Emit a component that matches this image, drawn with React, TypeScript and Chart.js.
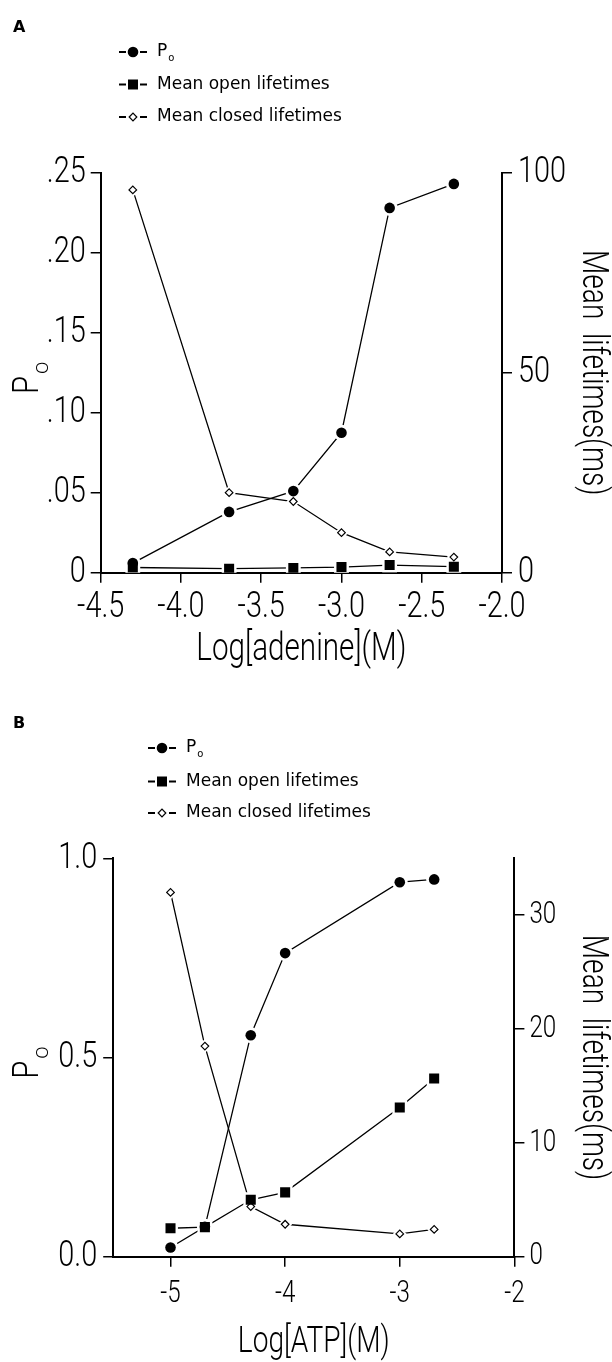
import React, { useEffect, useRef } from 'react';
import { Chart, registerables } from 'chart.js';

Chart.register(...registerables);

// ---------- series names ----------
const poName = 'P';
const poSub = 'o';
const openName = 'Mean open lifetimes';
const closedName = 'Mean closed lifetimes';

// ---------- Panel A : adenine ----------
const adenineLogM = [-4.3, -3.7, -3.3, -3.0, -2.7, -2.3];
const adeninePo = [0.006, 0.038, 0.051, 0.0875, 0.228, 0.243];
const adenineOpenMs = [1.3, 1.0, 1.2, 1.4, 1.9, 1.5];
const adenineClosedMs = [95.7, 20.0, 17.8, 10.0, 5.2, 3.9];
const adenineXTicks = [-4.5, -4.0, -3.5, -3.0, -2.5, -2.0];
const adenineXTickLabels = ['-4.5', '-4.0', '-3.5', '-3.0', '-2.5', '-2.0'];
const adeninePoTicks = [0, 0.05, 0.1, 0.15, 0.2, 0.25];
const adeninePoTickLabels = ['0', '.05', '.10', '.15', '.20', '.25'];
const adenineMsTicks = [0, 50, 100];
const adenineMsTickLabels = ['0', '50', '100'];

// ---------- Panel B : ATP ----------
const atpLogM = [-5.0, -4.7, -4.3, -4.0, -3.0, -2.7];
const atpPo = [0.023, 0.075, 0.556, 0.762, 0.94, 0.947];
const atpOpenMs = [2.5, 2.6, 5.0, 5.65, 13.1, 15.65];
const atpClosedMs = [32.0, 18.5, 4.4, 2.85, 2.0, 2.4];
const atpXTicks = [-5, -4, -3, -2];
const atpXTickLabels = ['-5', '-4', '-3', '-2'];
const atpPoTicks = [0, 0.5, 1.0];
const atpPoTickLabels = ['0.0', '0.5', '1.0'];
const atpMsTicks = [0, 10, 20, 30];
const atpMsTickLabels = ['0', '10', '20', '30'];

// thin face, drawn horizontally condensed
const THIN = 'Roboto, sans-serif';
const THIN_WEIGHT = 300;
const SX = 0.78;
const WIDE = "'DejaVu Sans', sans-serif";

type Panel = {
  letter: string;
  x: number[]; po: number[]; open: number[]; closed: number[];
  xRange: [number, number]; poRange: [number, number]; msRange: [number, number];
  xTicks: number[]; xLabels: string[];
  poTicks: number[]; poLabels: string[];
  msTicks: number[]; msLabels: string[];
  xTitle: string; msTitle: string;
  canvasTop: number; canvasH: number;
  area: { left: number; right: number; top: number; bottom: number };
  fonts: { poTick: number; xTick: number; msTick: number; xTitle: number; msTitle: number };
  pads: { poTick: number; xTick: number; msTick: number; xTitleBottom: number; msTitleTop: number };
  letterY: number; legendX: number; legendY: number[];
};

const panelA: Panel = {
  letter: 'A',
  x: adenineLogM, po: adeninePo, open: adenineOpenMs, closed: adenineClosedMs,
  xRange: [-4.5, -2.0], poRange: [0, 0.25], msRange: [0, 100],
  xTicks: adenineXTicks, xLabels: adenineXTickLabels,
  poTicks: adeninePoTicks, poLabels: adeninePoTickLabels,
  msTicks: adenineMsTicks, msLabels: adenineMsTickLabels,
  xTitle: 'Log[adenine](M)', msTitle: 'Mean  lifetimes(ms)',
  canvasTop: 0, canvasH: 690,
  area: { left: 100.7, right: 502, top: 172.7, bottom: 572.7 },
  fonts: { poTick: 37, xTick: 37, msTick: 37, xTitle: 38, msTitle: 36 },
  pads: { poTick: 5, xTick: 3, msTick: 6, xTitleBottom: 21, msTitleTop: 2 },
  letterY: 27.5, legendX: 119, legendY: [52, 84.5, 117],
};

const panelB: Panel = {
  letter: 'B',
  x: atpLogM, po: atpPo, open: atpOpenMs, closed: atpClosedMs,
  xRange: [-5.5, -2.0], poRange: [0, 1.0], msRange: [0, 35],
  xTicks: atpXTicks, xLabels: atpXTickLabels,
  poTicks: atpPoTicks, poLabels: atpPoTickLabels,
  msTicks: atpMsTicks, msLabels: atpMsTickLabels,
  xTitle: 'Log[ATP](M)', msTitle: 'Mean  lifetimes(ms)',
  canvasTop: 690, canvasH: 672,
  area: { left: 113.2, right: 514.4, top: 168.3, bottom: 566.7 },
  fonts: { poTick: 37, xTick: 31, msTick: 31, xTitle: 36, msTitle: 36 },
  pads: { poTick: 6, xTick: 9, msTick: 5, xTitleBottom: 1, msTitleTop: 2 },
  letterY: 34, legendX: 148, legendY: [58, 91.5, 123],
};

// draw every Roboto text horizontally condensed (the original uses a condensed light face)
function condense(ctx: any) {
  if (ctx.__condensed) return;
  ctx.__condensed = true;
  const orig = ctx.fillText.bind(ctx);
  ctx.fillText = (text: string, x: number, y: number, maxWidth?: number) => {
    if (String(ctx.font).indexOf('Roboto') >= 0) {
      ctx.save();
      ctx.translate(x, y);
      ctx.scale(SX, 1);
      if (maxWidth === undefined || maxWidth === null) orig(text, 0, 0);
      else orig(text, 0, 0, maxWidth / SX);
      ctx.restore();
    } else if (maxWidth === undefined || maxWidth === null) {
      orig(text, x, y);
    } else {
      orig(text, x, y, maxWidth);
    }
  };
}

const panelDecor = {
  id: 'panelDecor',
  beforeDraw(chart: any) {
    condense(chart.ctx);
  },
  afterDraw(chart: any, _args: any, opts: any) {
    const ctx: CanvasRenderingContext2D = chart.ctx;
    const area = chart.chartArea;
    ctx.save();
    ctx.fillStyle = '#000';
    ctx.strokeStyle = '#000';

    // panel letter
    ctx.font = `bold 16px ${WIDE}`;
    ctx.textAlign = 'left';
    ctx.textBaseline = 'middle';
    ctx.fillText(opts.letter, 13, opts.letterY);

    // legend
    const x0 = opts.legendX;
    opts.rows.forEach((row: any, i: number) => {
      const y = opts.legendY[i];
      ctx.lineWidth = 2;
      ctx.beginPath();
      ctx.moveTo(x0, y); ctx.lineTo(x0 + 7, y);
      ctx.moveTo(x0 + 21, y); ctx.lineTo(x0 + 28, y);
      ctx.stroke();
      const mx = x0 + 14;
      ctx.beginPath();
      if (row.style === 'circle') {
        ctx.arc(mx, y, 5.3, 0, Math.PI * 2);
        ctx.fill();
      } else if (row.style === 'rect') {
        ctx.rect(mx - 5, y - 5, 10, 10);
        ctx.fill();
      } else {
        ctx.moveTo(mx - 3.8, y); ctx.lineTo(mx, y - 3.8); ctx.lineTo(mx + 3.8, y); ctx.lineTo(mx, y + 3.8);
        ctx.closePath();
        ctx.fillStyle = '#fff'; ctx.fill();
        ctx.fillStyle = '#000';
        ctx.lineWidth = 1.2; ctx.stroke();
      }
      ctx.font = `17px ${WIDE}`;
      ctx.textBaseline = 'middle';
      ctx.fillText(row.label, x0 + 38, y);
      if (row.sub) {
        const w = ctx.measureText(row.label).width;
        ctx.font = `10px ${WIDE}`;
        ctx.fillText(row.sub, x0 + 38 + w + 1, y + 6);
      }
    });

    // left axis title: P with subscript o (rotated)
    const cy = (area.top + area.bottom) / 2;
    ctx.translate(38, cy);
    ctx.rotate(-Math.PI / 2);
    ctx.textBaseline = 'alphabetic';
    ctx.textAlign = 'left';
    ctx.font = `${THIN_WEIGHT} 37px ${THIN}`;
    ctx.fillText(opts.poTitle, -21, 0);
    ctx.font = `300 22px 'Open Sans', sans-serif`;
    ctx.fillText(opts.poTitleSub, -1.5, 10);
    ctx.restore();
  },
};

function setTicks(values: number[]) {
  return (scale: any) => {
    scale.ticks = values.map((v) => ({ value: v }));
  };
}

function buildConfig(p: Panel): any {
  const W = 612;
  const grid = { display: true, drawOnChartArea: false, drawTicks: true, tickLength: 10, color: '#000', lineWidth: 1.5 };
  const border = { display: true, color: '#000', width: 2 };
  const tickBase = { autoSkip: false, maxRotation: 0, minRotation: 0, color: '#000' };
  const tf = (size: number) => ({ family: THIN, size, weight: THIN_WEIGHT });
  const pts = (ys: number[]) => p.x.map((x, i) => ({ x, y: ys[i] }));

  const series = [
    { label: openName, ys: p.open, axis: 'yMs', style: 'rect', r: 7.1, halo: 10.5, bg: '#000', bw: 0 },
    { label: poName + poSub, ys: p.po, axis: 'yPo', style: 'circle', r: 5.3, halo: 8, bg: '#000', bw: 0 },
    { label: closedName, ys: p.closed, axis: 'yMs', style: 'rectRot', r: 3.8, halo: 7, bg: '#fff', bw: 1.2 },
  ];

  const lines = series.map((s) => ({
    label: s.label, data: pts(s.ys), yAxisID: s.axis, order: 3,
    borderColor: '#000', borderWidth: 1.3, tension: 0, fill: false, pointRadius: 0,
  }));
  // white gaps round the symbols, as in the original plot
  const halos = series.map((s) => ({
    label: s.label + ' gap', data: pts(s.ys), yAxisID: s.axis, order: 2, showLine: false,
    pointStyle: s.style, pointRadius: s.halo, pointBackgroundColor: '#fff', pointBorderWidth: 0, pointBorderColor: '#fff',
  }));
  const marks = series.map((s) => ({
    label: s.label + ' symbol', data: pts(s.ys), yAxisID: s.axis, order: 1, showLine: false,
    pointStyle: s.style, pointRadius: s.r, pointBackgroundColor: s.bg, pointBorderColor: '#000', pointBorderWidth: s.bw,
  }));

  return {
    type: 'line',
    data: { datasets: [...marks, ...halos, ...lines] },
    options: {
      responsive: false,
      animation: false,
      devicePixelRatio: 1,
      events: [],
      layout: { padding: { top: p.area.top, left: 0, right: 0, bottom: 0 } },
      plugins: {
        legend: { display: false },
        tooltip: { enabled: false },
        panelDecor: {
          letter: p.letter, letterY: p.letterY, legendX: p.legendX, legendY: p.legendY,
          rows: [
            { style: 'circle', label: poName, sub: poSub },
            { style: 'rect', label: openName },
            { style: 'rectRot', label: closedName },
          ],
          poTitle: poName, poTitleSub: poSub,
        },
      },
      scales: {
        x: {
          type: 'linear', position: 'bottom', min: p.xRange[0], max: p.xRange[1], z: 1,
          afterBuildTicks: setTicks(p.xTicks),
          afterFit: (s: any) => { s.height = p.canvasH - p.area.bottom; },
          ticks: { ...tickBase, font: tf(p.fonts.xTick), padding: p.pads.xTick, callback: (_v: any, i: number) => p.xLabels[i] },
          grid, border,
          title: { display: true, text: p.xTitle, color: '#000', font: { ...tf(p.fonts.xTitle), lineHeight: 1 }, padding: { top: 0, bottom: p.pads.xTitleBottom } },
        },
        yPo: {
          type: 'linear', position: 'left', min: p.poRange[0], max: p.poRange[1], z: 1,
          afterBuildTicks: setTicks(p.poTicks),
          afterFit: (s: any) => { s.width = p.area.left; },
          ticks: { ...tickBase, font: tf(p.fonts.poTick), padding: p.pads.poTick, callback: (_v: any, i: number) => p.poLabels[i] },
          grid, border,
        },
        yMs: {
          type: 'linear', position: 'right', min: p.msRange[0], max: p.msRange[1], z: 1,
          afterBuildTicks: setTicks(p.msTicks),
          afterFit: (s: any) => { s.width = W - p.area.right; },
          ticks: { ...tickBase, font: tf(p.fonts.msTick), padding: p.pads.msTick, callback: (_v: any, i: number) => p.msLabels[i] },
          grid, border,
          title: { display: true, text: p.msTitle, color: '#000', font: { ...tf(p.fonts.msTitle), lineHeight: 1 }, padding: { top: p.pads.msTitleTop, bottom: 0 } },
        },
      },
    },
    plugins: [panelDecor],
  };
}

function PanelChart({ panel }: { panel: Panel }) {
  const ref = useRef<HTMLCanvasElement>(null);
  useEffect(() => {
    const canvas = ref.current as HTMLCanvasElement;
    condense(canvas.getContext('2d'));
    const chart = new Chart(canvas, buildConfig(panel));
    return () => chart.destroy();
  }, [panel]);
  return (
    <canvas
      ref={ref}
      width={612}
      height={panel.canvasH}
      style={{ position: 'absolute', left: 0, top: panel.canvasTop, width: 612, height: panel.canvasH }}
    />
  );
}

export default function App() {
  return (
    <div style={{ position: 'absolute', left: 0, top: 0, width: 612, height: 1362, background: '#fff', overflow: 'hidden' }}>
      <PanelChart panel={panelA} />
      <PanelChart panel={panelB} />
    </div>
  );
}
